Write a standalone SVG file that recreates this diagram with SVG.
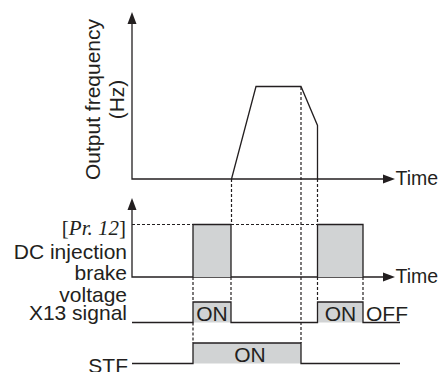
<svg xmlns="http://www.w3.org/2000/svg" width="440" height="372" viewBox="0 0 440 372">
<style>
.ln{fill:none;stroke:#231f20;stroke-width:1.3}
.ds{fill:none;stroke:#231f20;stroke-width:1.2;stroke-dasharray:3 2}
.box{fill:#d1d3d4;stroke:none}
.t{font-family:"Liberation Sans",Arial,sans-serif;font-size:21px;fill:#231f20}
.tm{font-family:"Liberation Sans",Arial,sans-serif;font-size:19.5px;fill:#231f20}
.s{font-family:"Liberation Serif","Times New Roman",serif;font-size:21px;fill:#231f20}
.ar{fill:#231f20}
</style>
<rect width="440" height="372" fill="#fff"/>
<g id="freq-axes">
<path class="ln" d="M132,22 V179 H386"/>
<polygon class="ar" points="132,12 127.5,24 136.5,24"/>
<polygon class="ar" points="395,179 383,174.5 383,183.5"/>
<text class="tm" x="395.5" y="185">Time</text>
<text class="t" transform="translate(99.5,99.5) rotate(-90)" text-anchor="middle">Output frequency</text>
<text class="t" transform="translate(124,99.5) rotate(-90)" text-anchor="middle">(Hz)</text>
</g>
<g id="freq-curve">
<path class="ln" d="M231.5,179 L256,86.5 H301 L317.5,125.5 V179"/>
</g>
<g id="brake-axes">
<path class="ln" d="M132,208 V277 H386"/>
<polygon class="ar" points="132,198 127.5,210 136.5,210"/>
<polygon class="ar" points="395,277 383,272.5 383,281.5"/>
<text class="tm" x="395.5" y="283">Time</text>
<text class="s" x="126" y="235" text-anchor="end">[<tspan font-style="italic">Pr. 12</tspan>]</text>
<text class="t" x="127" y="259" text-anchor="end">DC injection</text>
<text class="t" x="127" y="280" text-anchor="end">brake</text>
<text class="t" x="127" y="302" text-anchor="end">voltage</text>
</g>
<g id="brake-pulses">
<rect class="box" x="193" y="224.5" width="38" height="52.5"/>
<rect class="box" x="317.5" y="224.5" width="45.5" height="52.5"/>
<path class="ln" d="M193,277 V224.5 H231 V277"/>
<path class="ln" d="M317.5,277 V224.5 H363 V277"/>
</g>
<g id="x13-signal">
<rect class="box" x="193" y="302" width="38" height="20.5"/>
<rect class="box" x="317.5" y="302" width="45.5" height="20.5"/>
<path class="ln" d="M132,322.5 H193 V302 H231 V322.5 H317.5 V302 H363 V322.5 H400"/>
<text class="t" x="127" y="320" text-anchor="end">X13 signal</text>
<text class="t" x="212" y="320.5" text-anchor="middle">ON</text>
<text class="t" x="340.5" y="320.5" text-anchor="middle">ON</text>
<text class="t" x="366" y="320.5">OFF</text>
</g>
<g id="stf-signal">
<rect class="box" x="193" y="343" width="108" height="20.5"/>
<path class="ln" d="M132,363.5 H193 V343 H301 V363.5 H400"/>
<text class="t" x="128" y="373" text-anchor="end">STF</text>
<text class="t" x="250" y="362" text-anchor="middle">ON</text>
</g>
<g id="connectors">
<path class="ds" d="M132,224.5 H193 M231,224.5 H317.5"/>
<path class="ds" d="M193,277 V302 M193,322.5 V343"/>
<path class="ds" d="M231.5,179 V224.5 M231,277 V302"/>
<path class="ds" d="M301,87 V343"/>
<path class="ds" d="M317.5,179 V224.5 M317.5,277 V302"/>
<path class="ds" d="M363,277 V302"/>
</g>
</svg>
